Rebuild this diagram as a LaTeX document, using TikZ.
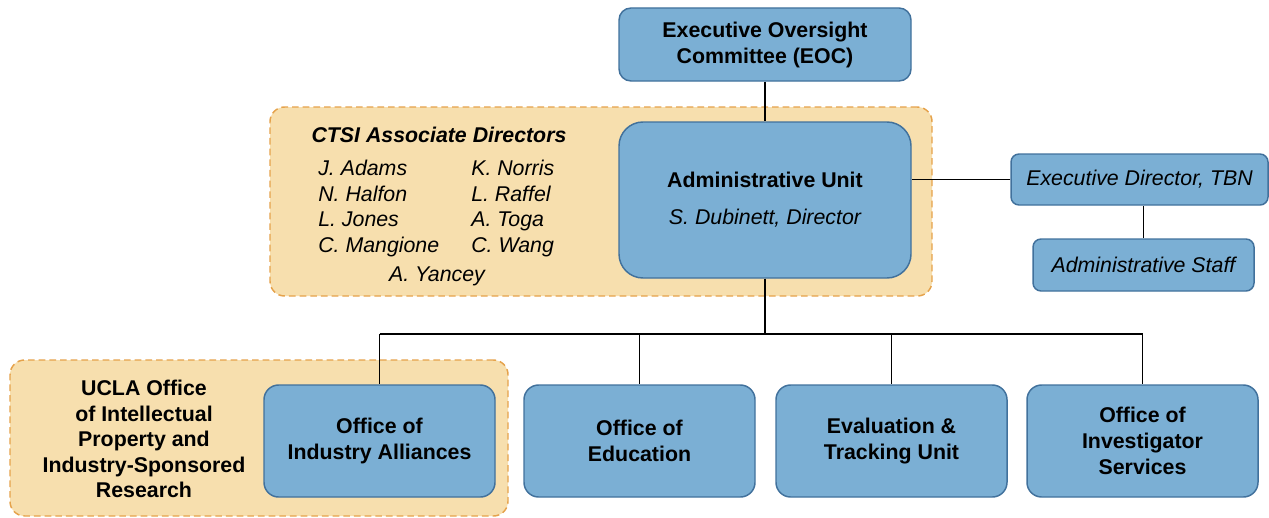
\documentclass[tikz,border=0pt]{standalone}
\usepackage{fontspec}
\setmainfont{Liberation Sans}
\definecolor{boxblue}{HTML}{7BAFD4}
\definecolor{boxedge}{HTML}{41719C}
\definecolor{groupfill}{HTML}{F7DFAE}
\definecolor{dashorange}{HTML}{E5A24B}
\begin{document}
\begin{tikzpicture}[x=0.75pt,y=-0.75pt,
  every node/.style={font=\fontsize{16}{19.5}\selectfont},
  box/.style={draw=boxedge, fill=boxblue, line width=1.1pt, rounded corners=9pt,
    inner sep=0pt, align=center, font=\fontsize{16}{19.5}\selectfont\bfseries},
  ibox/.style={box, rounded corners=6pt, font=\fontsize{16}{19.5}\selectfont\itshape},
  bottombox/.style={box, rounded corners=11pt, minimum width=173.25pt, minimum height=84pt},
  group/.style={draw=dashorange, fill=groupfill, line width=1.1pt,
    dash pattern=on 5pt off 3pt, rounded corners=11pt, inner sep=0pt},
  link/.style={draw=black, line width=1.2pt},
  txt/.style={inner sep=0pt, align=left}
]
\useasboundingbox (0,0) rectangle (1269,517);
% groups
\node[group, minimum width=496.5pt, minimum height=141.75pt] (ctsi) at (601,201.5) {};
\node[group, minimum width=373.5pt, minimum height=117pt] (ucla) at (259,438) {};
% boxes
\node[box, minimum width=219pt, minimum height=54.75pt] (eoc) at (765,44.5)
  {Executive Oversight\\Committee (EOC)};
\node[box, rounded corners=18pt, minimum width=219pt, minimum height=117pt] (au) at (765,200)
  {Administrative Unit\\[8.25pt]{\mdseries\itshape S. Dubinett, Director}};
\node[ibox, minimum width=192.75pt, minimum height=38.25pt] (ed) at (1139.5,179.5)
  {Executive Director, TBN};
\node[ibox, minimum width=165.75pt, minimum height=39pt] (as) at (1143.5,265)
  {Administrative Staff};
\node[bottombox] (oia) at (379.5,441) {Office of\\Industry Alliances};
\node[bottombox] (oe) at (639.5,441) {Office of\\Education};
\node[bottombox] (etu) at (891.5,441) {Evaluation \&\\Tracking Unit};
\node[bottombox] (ois) at (1142.5,441) {Office of\\Investigator\\Services};
% texts
\node[txt, font=\fontsize{16}{19.5}\selectfont\bfseries\itshape] (ctsititle) at (439,135) {CTSI Associate Directors};
\node[txt, anchor=west, font=\fontsize{16}{19.3}\selectfont\itshape] (col1) at (318,208.5)
  {J. Adams\\N. Halfon\\L. Jones\\C. Mangione};
\node[txt, anchor=west, font=\fontsize{16}{19.3}\selectfont\itshape] (col2) at (471,208.5)
  {K. Norris\\L. Raffel\\A. Toga\\C. Wang};
\node[txt, font=\fontsize{16}{19.5}\selectfont\itshape] (yancey) at (437,276) {A. Yancey};
\node[txt, align=center, font=\fontsize{16}{19.2}\selectfont\bfseries] (uclatext) at (144,439)
  {UCLA Office\\of Intellectual\\Property and\\Industry-Sponsored\\Research};
% connectors
\coordinate (bus) at (765,334);
\draw[link] (eoc.south) -- (au.north);
\draw[link] (ed.west) -- (ed.west -| au.east);
\draw[link] (as.north) -- (as.north |- ed.south);
\draw[link] (au.south) -- (au.south |- bus);
\draw[link] (oia.north |- bus) -- (ois.north |- bus);
\draw[link] (oia.north |- bus) -- (oia.north);
\draw[link] (oe.north |- bus) -- (oe.north);
\draw[link] (etu.north |- bus) -- (etu.north);
\draw[link] (ois.north |- bus) -- (ois.north);
\end{tikzpicture}
\end{document}
